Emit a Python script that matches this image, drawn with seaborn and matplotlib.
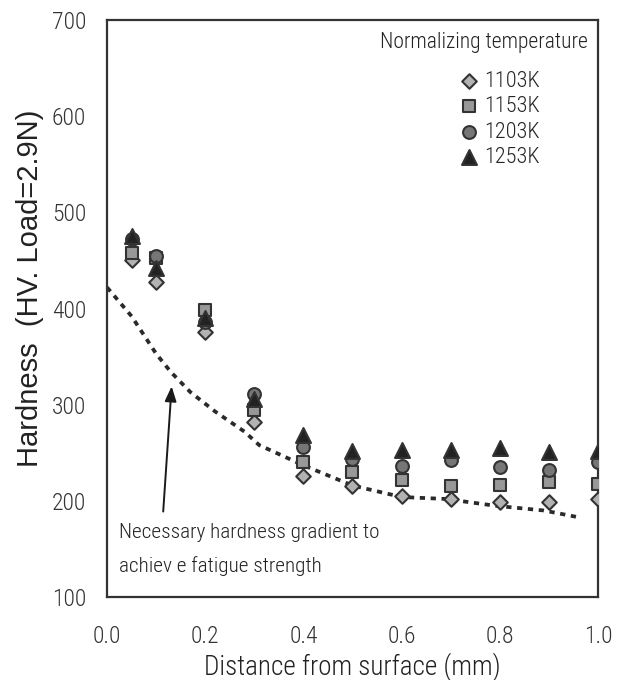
import matplotlib
matplotlib.use("Agg")
import matplotlib.pyplot as plt
import seaborn as sns
import pandas as pd
import numpy as np

sns.set_style("white")
plt.rcParams['font.family'] = ['Roboto Condensed', 'Archivo Narrow', 'Liberation Sans', 'DejaVu Sans']
plt.rcParams['font.weight'] = 'light'
plt.rcParams['axes.labelweight'] = 'light'

distance = [0.05, 0.1, 0.2, 0.3, 0.4, 0.5, 0.6, 0.7, 0.8, 0.9, 1.0]
h_1103 = [450, 428, 376, 282, 226, 215, 205, 202, 199, 199, 202]
h_1153 = [458, 453, 398, 294, 240, 230, 222, 215, 217, 220, 218]
h_1203 = [472, 455, 386, 311, 256, 244, 236, 242, 235, 232, 240]
h_1253 = [475, 442, 390, 306, 268, 252, 253, 253, 255, 251, 252]

curve_x = [0.0, 0.05, 0.1, 0.13, 0.17, 0.22, 0.28, 0.31, 0.4, 0.5, 0.6, 0.69, 0.79, 0.89, 0.96]
curve_y = [422, 392, 353, 334, 313, 293, 272, 258, 237, 216, 204, 202, 195, 190, 183]

labels = ["1103K", "1153K", "1203K", "1253K"]
series = [h_1103, h_1153, h_1203, h_1253]
markers = ["D", "s", "o", "^"]
colors = ["#b2b2b2", "#989898", "#767676", "#222222"]
sizes = [55, 80, 85, 115]

fig = plt.figure(figsize=(6.17, 6.8), dpi=100)
ax = fig.add_axes([0.1735, 0.122, 0.7955, 0.8485])

sns.lineplot(x=curve_x, y=curve_y, ax=ax, color="#2a2a2a", lw=2.7,
             linestyle=(0, (1.4, 1.5)), zorder=2)

for lab, vals, m, c, s in zip(labels, series, markers, colors, sizes):
    df = pd.DataFrame({"x": distance, "y": vals})
    sns.scatterplot(data=df, x="x", y="y", ax=ax, marker=m, s=s, color=c,
                    edgecolor="#333333", linewidth=1.5, label=lab, zorder=3)

ax.set_xlim(0, 1.0)
ax.set_ylim(100, 700)
ticks_x = np.arange(0, 1.01, 0.2)
ax.set_xticks(ticks_x)
ax.set_xticklabels([f"{v:.1f}" for v in ticks_x])
ax.set_yticks(range(100, 701, 100))
ax.tick_params(axis="both", direction="in", length=5, color="#999999",
               labelsize=17, labelcolor="#333333")
ax.tick_params(axis="y", pad=15)
ax.tick_params(axis="x", pad=20)
for sp in ax.spines.values():
    sp.set_color("#333333")
    sp.set_linewidth(1.6)

ax.set_xlabel("Distance from surface (mm)", fontsize=19.5, color="#222222", labelpad=3)
ax.set_ylabel("Hardness  (HV. Load=2.9N)", fontsize=21, color="#222222",
              family=['Liberation Sans', 'DejaVu Sans'], fontweight='normal')
ax.yaxis.set_label_coords(-0.128, 0.535)

ax.annotate("", xy=(0.132, 322), xytext=(0.114, 186),
            arrowprops=dict(arrowstyle="-|>,head_length=0.9,head_width=0.35",
                            color="#1a1a1a", lw=1.4), zorder=4)
ax.text(0.025, 167.6, "Necessary hardness gradient to", fontsize=15.3,
        color="#222222", va="center")
ax.text(0.025, 132, "achiev e fatigue strength", fontsize=15.3,
        color="#222222", va="center")

ax.text(0.98, 677, "Normalizing temperature", fontsize=15.5, color="#222222",
        ha="right", va="center")
leg = ax.legend(loc="upper left", bbox_to_anchor=(0.71, 0.912), frameon=False,
                fontsize=16, handletextpad=0.1, labelspacing=0.2,
                borderaxespad=0.0, handlelength=1.2, borderpad=0.0)

fig.savefig("out.png", dpi=100)
